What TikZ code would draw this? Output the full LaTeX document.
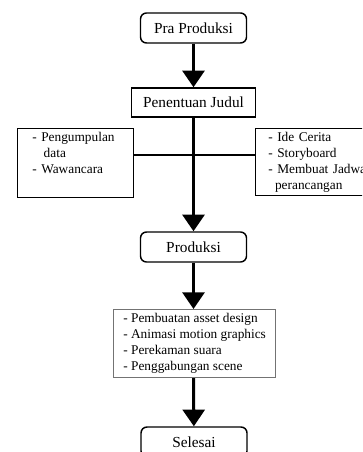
\documentclass[tikz,border=0pt]{standalone}
\usepackage{fontspec}
\setmainfont{Liberation Serif}
\usetikzlibrary{arrows.meta}

\begin{document}
\begin{tikzpicture}[x=0.75pt,y=-0.75pt,
  tahap/.style={draw,line width=1.1pt,rounded corners=4.5pt,minimum width=79.5pt,minimum height=22.5pt,inner sep=0pt,font=\fontsize{11.5}{13}\selectfont},
  judulbox/.style={draw,line width=1.1pt,minimum width=93pt,minimum height=21.75pt,inner sep=0pt,font=\fontsize{11.5}{13}\selectfont},
  daftar/.style={draw,line width=1.1pt,anchor=north west,align=left,inner ysep=2.5pt,font=\fontsize{10}{12}\selectfont},
  alur/.style={line width=2.25pt,-{Triangle[width=16.5pt,length=12.5pt]}}]
\clip (0,0) rectangle (362,452);
\node[tahap] (pra) at (193.5,28) {Pra Produksi};
\node[judulbox] (judul) at (193.5,102.5) {Penentuan Judul};
\node[daftar,text width=65pt,inner xsep=11pt,minimum height=49.5pt] (kiri) at (17,128)
  {- Pengumpulan\\\hspace*{8.5pt}data\\- Wawancara\\\strut};
\node[daftar,text width=82pt,inner xsep=9.5pt,minimum height=49.5pt] (kanan) at (255,128)
  {- Ide Cerita\\- Storyboard\\- Membuat Jadwal\\\hspace*{5pt}perancangan};
\node[tahap] (produksi) at (193.5,247) {Produksi};
\node[daftar,draw=black!55,line width=0.9pt,inner xsep=0pt,minimum width=121.5pt,minimum height=51pt] (kerja) at (113,309)
  {- Pembuatan asset design\\- Animasi motion graphics\\- Perekaman suara\\- Penggabungan scene};
\node[tahap] (selesai) at (194,442) {Selesai};
\coordinate (cabang) at (193.5,155);
\draw[line width=1.1pt] (kiri.east |- cabang) -- (kanan.west |- cabang);
\draw[alur] (pra) -- (judul);
\draw[alur] (judul) -- (produksi);
\draw[alur] (produksi) -- (produksi |- kerja.north);
\draw[alur] (produksi |- kerja.south) -- (selesai);
\end{tikzpicture}
\end{document}
